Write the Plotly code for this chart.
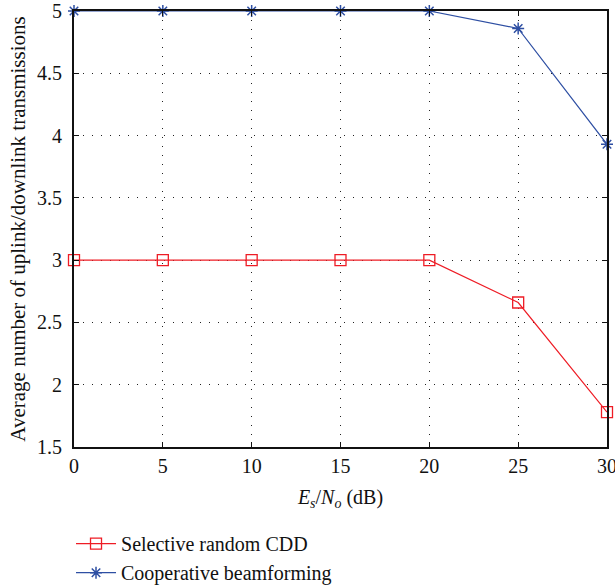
import plotly.graph_objects as go

snr_db = [0, 5, 10, 15, 20, 25, 30]
selective_cdd = [3, 3, 3, 3, 3, 2.66, 1.78]
coop_bf = [5, 5, 5, 5, 5, 4.86, 3.93]

fig = go.Figure()
fig.add_trace(go.Scatter(
    x=snr_db, y=selective_cdd, mode="lines+markers", name="Selective random CDD",
    line=dict(color="#ee1c25", width=1.2),
    marker=dict(symbol="square-open", size=11, color="#ee1c25", line=dict(width=1.3)),
    cliponaxis=False,
))
fig.add_trace(go.Scatter(
    x=snr_db, y=coop_bf, mode="lines+markers", name="Cooperative beamforming",
    line=dict(color="#2e4fa3", width=1.2),
    marker=dict(symbol="asterisk-open", size=10, color="#2e4fa3", line=dict(width=1.5)),
    cliponaxis=False,
))

axis_common = dict(
    showline=True, linecolor="#111111", linewidth=2, mirror="ticks",
    ticks="inside", ticklen=5, tickcolor="#111111",
    showgrid=True, gridcolor="#222222", griddash="1px,8px", gridwidth=1,
    zeroline=False, tickfont=dict(size=20, color="#111111"),
    ticklabeloverflow="allow",
)
fig.update_xaxes(range=[0, 30], tickvals=snr_db, ticklabelstandoff=0, **axis_common,
                 title=dict(text="<i>E<sub>s</sub></i>/<i>N<sub>o</sub></i> (dB)",
                            font=dict(size=20, color="#111111"), standoff=14))
fig.update_yaxes(range=[1.5, 5], dtick=0.5, ticklabelstandoff=6, **axis_common,
                 title=dict(text="Average number of uplink/downlink transmissions",
                            font=dict(size=21, color="#111111"), standoff=6))

fig.update_layout(
    width=615, height=586,
    margin=dict(l=74, r=8, t=11, b=139, autoexpand=False),
    plot_bgcolor="white", paper_bgcolor="white",
    font=dict(family="Liberation Serif, Times New Roman, serif", size=20, color="#111111"),
    legend=dict(x=-0.0056, y=-0.177, xanchor="left", yanchor="top",
                font=dict(size=20), tracegroupgap=0, itemwidth=40,
                bgcolor="rgba(0,0,0,0)"),
)

# drop the default 8px body margin so the figure sits at the page corner
fig.write_html("out.html", config={"displayModeBar": False},
               post_script="document.body.style.margin='0';")
